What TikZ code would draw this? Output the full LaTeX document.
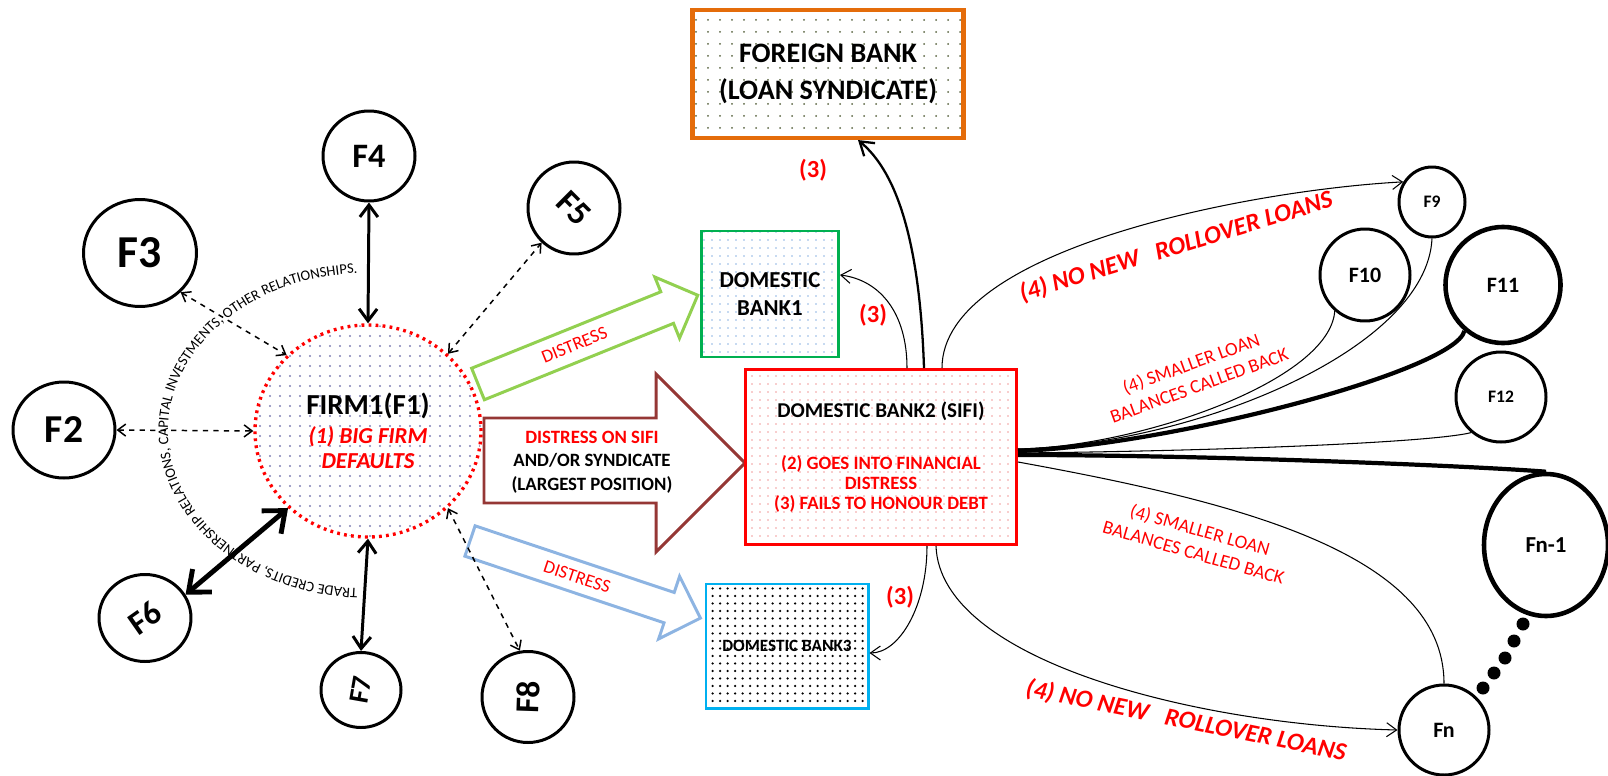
\documentclass[tikz,border=0pt]{standalone}
\usepackage{fontspec}
\setmainfont{Carlito}
\usepackage{graphicx}
\usetikzlibrary{arrows.meta,shapes.geometric,patterns.meta,decorations.text,calc}

\definecolor{syndorange}{HTML}{E46C0A}
\definecolor{bankgreen}{HTML}{00B050}
\definecolor{distgreen}{HTML}{92D050}
\definecolor{sifibrown}{HTML}{953735}
\definecolor{distblue}{HTML}{8DB4E2}
\definecolor{bankcyan}{HTML}{00B0F0}
\definecolor{firmdots}{HTML}{8080B4}
\definecolor{synddots}{HTML}{5A6440}
\definecolor{sifidots}{HTML}{F09C9C}

\newcommand{\fsz}[2]{\fontsize{#1}{#2}\selectfont}

\tikzset{
  firm/.style={ellipse, draw, line width=1.7pt, inner sep=0pt, font=\bfseries},
  bigfirm/.style={firm, line width=2.6pt},
  bank/.style={rectangle, draw, line width=1.7pt, inner sep=0pt, align=center, font=\bfseries},
  strongtie/.style={line width=1.7pt, {Straight Barb[length=2.4mm,width=3.6mm]}-{Straight Barb[length=2.4mm,width=3.6mm]}},
  weaktie/.style={dashed, line width=0.85pt, {Straight Barb[length=1.6mm,width=2.4mm]}-{Straight Barb[length=1.6mm,width=2.4mm]}},
  spill/.style={line width=0.6pt, -{Straight Barb[length=2mm,width=2.8mm]}},
  fanout/.style={line width=0.6pt},
  heavyfan/.style={line width=2.4pt},
  stepno/.style={text=red, font=\bfseries\fsz{14}{17}},
  rollover/.style={text=red, font=\bfseries\itshape\fsz{14.3}{17}},
  callback/.style={text=red, align=center, font=\fsz{10.8}{13.2}},
  blockarrow/.style={line width=1.7pt},
}

\begin{document}
\begin{tikzpicture}[x=0.2mm, y=-0.2mm]
\useasboundingbox (0,0) rectangle (1608,776);

% distress channels out of the defaulting firm
\begin{scope}[shift={(478,384)}, rotate=22]
  \draw[blockarrow, draw=distgreen] (0,-17) -- (204,-17) -- (204,-33) -- (237,0) -- (204,33) -- (204,17) -- (0,17) -- cycle;
  \node[rotate=22, text=red, font=\fsz{10.5}{12}] (distup) at (104,0) {DISTRESS};
\end{scope}
\begin{scope}[shift={(470,541)}, rotate=-18.5]
  \draw[blockarrow, draw=distblue] (0,-16) -- (210,-16) -- (210,-33) -- (243,0) -- (210,33) -- (210,16) -- (0,16) -- cycle;
  \node[rotate=-18.5, text=red, font=\fsz{10.5}{12}] (distdown) at (113,0) {DISTRESS};
\end{scope}
\draw[blockarrow, draw=sifibrown] (484,418) -- (656,418) -- (656,374) -- (745,463) -- (656,552) -- (656,503) -- (484,503) -- cycle;
\node[align=center, font=\bfseries\fsz{10.7}{13.4}] (sifiload) at (592,462)
  {\textcolor{red}{DISTRESS ON SIFI}\\AND/OR SYNDICATE\\(LARGEST POSITION)};

% firm network
\node[ellipse, minimum width=45.2mm, minimum height=42.4mm, draw=red, line width=1.9pt,
  dash pattern=on 1.6pt off 2.4pt, pattern={Dots[distance=2mm,radius=0.22mm]},
  pattern color=firmdots, align=center, font=\bfseries\fsz{13}{14.2}] (F1) at (368,431)
  {{\fsz{16.5}{20}FIRM1(F1)}\\[2.5pt]
   {\color{red}\itshape(1) BIG FIRM}\\
   {\color{red}\itshape DEFAULTS}};
\node[firm, minimum width=20.4mm, minimum height=19.2mm, font=\bfseries\fsz{22.5}{27}] (F2) at (64,430) {F2};
\node[firm, minimum width=22.6mm, minimum height=21.4mm, font=\bfseries\fsz{26}{31}] (F3) at (140,253) {F3};
\node[firm, minimum width=18.4mm, minimum height=18mm, font=\bfseries\fsz{19.5}{23}] (F4) at (369,156) {F4};
\node[firm, minimum width=18.4mm, minimum height=18.4mm, font=\bfseries\fsz{19.5}{23}] (F5) at (574,208) {\rotatebox{-45}{F5}};
\node[firm, minimum width=18.4mm, minimum height=17.4mm, font=\bfseries\fsz{19}{23}] (F6) at (145,618) {\rotatebox{35}{F6}};
\node[firm, minimum width=16mm, minimum height=15mm, font=\bfseries\fsz{16}{19}] (F7) at (361,690) {\rotatebox{80}{F7}};
\node[firm, minimum width=18.4mm, minimum height=18.2mm, font=\bfseries\fsz{19}{23}] (F8) at (528,697) {\rotatebox{88}{F8}};

\draw[strongtie] (F4.south) -- (F1.north);
\draw[strongtie] (F1.south) -- (F7.north);
\draw[line width=2.8pt, {Straight Barb[length=3.6mm,width=6mm]}-{Straight Barb[length=3.6mm,width=6mm]}] (F1.-136) -- (F6.30);
\draw[weaktie] (F3.-44) -- (F1.137);
\draw[weaktie] (F2.east) -- (F1.west);
\draw[weaktie] (F1.44) -- (F5.227);
\draw[weaktie] (F1.-44) -- (F8.100);

% kinds of ties, written round the firm
\path[decorate, decoration={text along path,
    text={|\fsz{8.3}{10}|TRADE CREDITS, PARTNERSHIP RELATIONS, CAPITAL INVESTMENTS, OTHER RELATIONSHIPS.}}]
  ($(F1.center)+(93:200 and 158)$) arc[start angle=93, end angle=275, x radius=200, y radius=158];

% banks
\node[bank, draw=syndorange, line width=2.3pt, minimum width=54.2mm, minimum height=25.6mm,
  pattern={Dots[distance=2.4mm,radius=0.2mm]}, pattern color=synddots,
  font=\bfseries\fsz{16}{21}] (foreign) at (828,74) {FOREIGN BANK\\(LOAN SYNDICATE)};
\node[bank, draw=bankgreen, minimum width=27.4mm, minimum height=25.2mm,
  pattern={Dots[distance=1.6mm,radius=0.18mm]}, pattern color=distblue,
  font=\bfseries\fsz{13}{15.5}] (dbank1) at (770,294) {DOMESTIC\\BANK1};
\node[bank, draw=red, minimum width=54.2mm, minimum height=35mm,
  pattern={Dots[distance=1.6mm,radius=0.18mm]}, pattern color=sifidots,
  font=\bfseries\fsz{10.7}{11.5}] (dbank2) at (881,457)
  {{\fsz{12}{14}DOMESTIC BANK2 (SIFI)}\\[18pt]
   \textcolor{red}{(2) GOES INTO FINANCIAL}\\
   \textcolor{red}{DISTRESS}\\
   \textcolor{red}{(3) FAILS TO HONOUR DEBT}};
\node[bank, draw=bankcyan, minimum width=32.4mm, minimum height=24.8mm,
  pattern={Dots[distance=1.5mm,radius=0.25mm]}, pattern color=black,
  font=\bfseries\fsz{9.8}{12}] (dbank3) at (787,646) {DOMESTIC BANK3};

% firms that borrow from the SIFI
\node[firm, minimum width=13.2mm, minimum height=14mm, font=\bfseries\fsz{10}{12}] (F9) at (1432,202) {F9};
\node[firm, minimum width=18mm, minimum height=18.4mm, font=\bfseries\fsz{12.5}{15}] (F10) at (1365,275) {F10};
\node[bigfirm, minimum width=23mm, minimum height=23.2mm, font=\bfseries\fsz{12.5}{15}] (F11) at (1503,285) {F11};
\node[firm, minimum width=18mm, minimum height=18mm, font=\bfseries\fsz{10}{12}] (F12) at (1501,397) {F12};
\node[bigfirm, minimum width=24.8mm, minimum height=28.4mm, font=\bfseries\fsz{13}{16}] (Fnm) at (1546,545) {Fn-1};
\node[firm, minimum width=18mm, minimum height=18mm, font=\bfseries\fsz{12.5}{15}] (Fn) at (1444,730) {Fn};
\foreach \dx/\dy in {1483/688,1494/673,1505/658,1514/641,1523/624}
  \fill (\dx,\dy) circle[radius=1.3mm];

% (3) contagion to the other banks
\draw[spill, line width=1.3pt, -{Straight Barb[length=2.6mm,width=3.4mm]}] ([xshift=8.6mm]dbank2.north) .. controls +(-5,-150) and +(30,25) .. ([xshift=6mm]foreign.south);
\draw[spill] ([xshift=5.2mm]dbank2.north) .. controls +(0,-55) and +(40,5) .. ([yshift=3.8mm]dbank1.east);
\draw[spill] ([xshift=9.2mm]dbank2.south) .. controls +(0,60) and +(30,0) .. ([yshift=-1.4mm]dbank3.east);
\node[stepno] (stepforeign) at (813,170) {(3)};
\node[stepno] (stepdb1) at (873,315) {(3)};
\node[stepno] (stepdb3) at (900,597) {(3)};

% (4) credit pulled from the firms
\draw[spill] ([xshift=12.2mm]dbank2.north) .. controls +(0,-120) and +(-150,8) .. (F9.145);
\draw[spill] ([xshift=11mm]dbank2.south) .. controls +(4,115) and +(-200,-5) .. (Fn.west);
\draw[fanout] ([yshift=1.6mm]dbank2.east) .. controls +(120,-2) and +(-5,70) .. (F10.-130);
\draw[fanout] ([yshift=1.6mm]dbank2.east) .. controls +(180,-5) and +(-5,110) .. (F9.south);
\draw[heavyfan] ([yshift=1.2mm]dbank2.east) .. controls +(150,-5) and +(-10,40) .. (F11.-130);
\draw[fanout] ([yshift=0.8mm]dbank2.east) .. controls +(200,-2) and +(-40,10) .. (F12.-130);
\draw[heavyfan] ([yshift=0.4mm]dbank2.east) .. controls +(200,0) and +(-60,-5) .. (Fnm.north);
\draw[fanout] ([yshift=-1mm]dbank2.east) .. controls +(220,40) and +(0,-130) .. (Fn.north);

\node[rollover, rotate=17] (norollup) at (1176,247) {(4) NO NEW\ \ \ ROLLOVER LOANS};
\node[rollover, rotate=-11.5] (norolldown) at (1186,721) {(4) NO NEW\ \ \ ROLLOVER LOANS};
\node[callback, rotate=20] (callup) at (1195,374) {(4) SMALLER LOAN\\BALANCES CALLED BACK};
\node[callback, rotate=-16] (calldown) at (1197,541) {(4) SMALLER LOAN\\BALANCES CALLED BACK};
\end{tikzpicture}
\end{document}
